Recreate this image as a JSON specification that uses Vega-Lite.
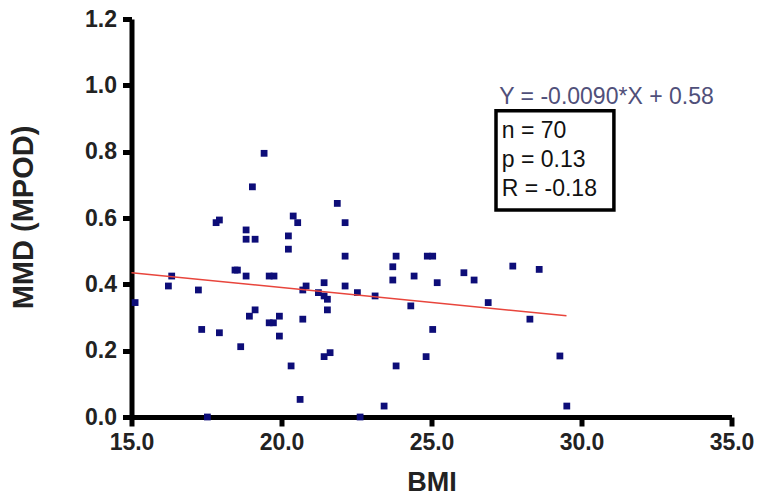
{
  "$schema": "https://vega.github.io/schema/vega-lite/v6.json",
  "width": 600,
  "height": 398,
  "autosize": "none",
  "padding": {"left": 131.5, "top": 19, "right": 26.5, "bottom": 80},
  "background": "white",
  "config": {
    "view": {"stroke": null},
    "font": "Liberation Sans",
    "axis": {
      "grid": false,
      "labelFlush": false,
      "labelOverlap": false,
      "domainColor": "black",
      "domainWidth": 5,
      "tickColor": "black",
      "tickWidth": 5,
      "tickSize": 9,
      "labelFont": "Liberation Sans",
      "labelFontWeight": "bold",
      "labelFontSize": 23,
      "labelColor": "#222222",
      "titleFont": "Liberation Sans",
      "titleFontWeight": "bold",
      "titleFontSize": 27,
      "titleColor": "#222222"
    }
  },
  "datasets": {
    "pts": [
      {"bmi": 15.12, "mmd": 0.345}, {"bmi": 16.23, "mmd": 0.395}, {"bmi": 16.34, "mmd": 0.425},
      {"bmi": 17.23, "mmd": 0.383}, {"bmi": 17.34, "mmd": 0.264}, {"bmi": 17.53, "mmd": 0.0},
      {"bmi": 17.82, "mmd": 0.586}, {"bmi": 17.93, "mmd": 0.594}, {"bmi": 17.93, "mmd": 0.254},
      {"bmi": 18.45, "mmd": 0.443}, {"bmi": 18.53, "mmd": 0.443}, {"bmi": 18.64, "mmd": 0.212},
      {"bmi": 18.82, "mmd": 0.564}, {"bmi": 18.82, "mmd": 0.536}, {"bmi": 19.12, "mmd": 0.536},
      {"bmi": 18.82, "mmd": 0.425}, {"bmi": 18.93, "mmd": 0.304}, {"bmi": 19.12, "mmd": 0.323},
      {"bmi": 19.03, "mmd": 0.694}, {"bmi": 19.42, "mmd": 0.795}, {"bmi": 19.59, "mmd": 0.425},
      {"bmi": 19.75, "mmd": 0.425}, {"bmi": 19.59, "mmd": 0.284}, {"bmi": 19.73, "mmd": 0.284},
      {"bmi": 19.93, "mmd": 0.304}, {"bmi": 19.93, "mmd": 0.244}, {"bmi": 20.23, "mmd": 0.546},
      {"bmi": 20.23, "mmd": 0.506}, {"bmi": 20.32, "mmd": 0.154}, {"bmi": 20.39, "mmd": 0.606},
      {"bmi": 20.54, "mmd": 0.586}, {"bmi": 20.62, "mmd": 0.053}, {"bmi": 20.71, "mmd": 0.295},
      {"bmi": 20.71, "mmd": 0.383}, {"bmi": 20.82, "mmd": 0.395}, {"bmi": 21.23, "mmd": 0.375},
      {"bmi": 21.42, "mmd": 0.405}, {"bmi": 21.42, "mmd": 0.365}, {"bmi": 21.53, "mmd": 0.355},
      {"bmi": 21.53, "mmd": 0.323}, {"bmi": 21.42, "mmd": 0.182}, {"bmi": 21.62, "mmd": 0.194},
      {"bmi": 21.86, "mmd": 0.644}, {"bmi": 22.12, "mmd": 0.586}, {"bmi": 22.12, "mmd": 0.485},
      {"bmi": 22.12, "mmd": 0.395}, {"bmi": 22.53, "mmd": 0.375}, {"bmi": 22.62, "mmd": 0.0},
      {"bmi": 23.12, "mmd": 0.365}, {"bmi": 23.42, "mmd": 0.033}, {"bmi": 23.71, "mmd": 0.453},
      {"bmi": 23.71, "mmd": 0.413}, {"bmi": 23.82, "mmd": 0.485}, {"bmi": 23.82, "mmd": 0.154},
      {"bmi": 24.31, "mmd": 0.335}, {"bmi": 24.42, "mmd": 0.425}, {"bmi": 24.82, "mmd": 0.182},
      {"bmi": 24.86, "mmd": 0.485}, {"bmi": 25.04, "mmd": 0.485}, {"bmi": 25.04, "mmd": 0.264},
      {"bmi": 25.19, "mmd": 0.405}, {"bmi": 26.08, "mmd": 0.435}, {"bmi": 26.42, "mmd": 0.413},
      {"bmi": 26.89, "mmd": 0.345}, {"bmi": 27.71, "mmd": 0.455}, {"bmi": 28.28, "mmd": 0.295},
      {"bmi": 28.59, "mmd": 0.445}, {"bmi": 29.28, "mmd": 0.184}, {"bmi": 29.51, "mmd": 0.033}
    ],
    "fit": [
      {"bmi": 15.0, "mmd": 0.435},
      {"bmi": 29.5, "mmd": 0.305}
    ],
    "box": [
      {"x1": 27.15, "x2": 31.08, "y1": 0.624, "y2": 0.923}
    ],
    "labels": [
      {"bmi": 27.26, "mmd": 0.943, "txt": "Y = -0.0090*X + 0.58", "kind": "eq"},
      {"bmi": 27.34, "mmd": 0.840, "txt": "n = 70", "kind": "stat"},
      {"bmi": 27.34, "mmd": 0.754, "txt": "p = 0.13", "kind": "stat"},
      {"bmi": 27.34, "mmd": 0.666, "txt": "R = -0.18", "kind": "stat"}
    ]
  },
  "layer": [
    {
      "data": {"name": "pts"},
      "mark": {"type": "point", "shape": "square", "filled": true, "size": 46, "color": "#0d0d78", "opacity": 1},
      "encoding": {
        "x": {
          "field": "bmi", "type": "quantitative",
          "scale": {"domain": [15, 35], "nice": false, "zero": false},
          "axis": {
            "values": [15, 20, 25, 30, 35], "format": ".1f", "title": "BMI",
            "labelPadding": 5, "titleBaseline": "alphabetic", "titleY": 73
          }
        },
        "y": {
          "field": "mmd", "type": "quantitative",
          "scale": {"domain": [0, 1.2], "nice": false},
          "axis": {
            "values": [0, 0.2, 0.4, 0.6, 0.8, 1.0, 1.2], "format": ".1f", "title": "MMD (MPOD)",
            "labelPadding": 6, "titleX": -93, "titleY": 198, "titleAngle": -90,
            "titleAlign": "center", "titleBaseline": "bottom", "titleFontSize": 29
          }
        }
      }
    },
    {
      "data": {"name": "fit"},
      "mark": {"type": "line", "color": "#e8453c", "strokeWidth": 1.5},
      "encoding": {
        "x": {"field": "bmi", "type": "quantitative"},
        "y": {"field": "mmd", "type": "quantitative"}
      }
    },
    {
      "data": {"name": "box"},
      "mark": {"type": "rect", "fill": "white", "fillOpacity": 0, "stroke": "black", "strokeWidth": 3.5},
      "encoding": {
        "x": {"field": "x1", "type": "quantitative"},
        "x2": {"field": "x2"},
        "y": {"field": "y1", "type": "quantitative"},
        "y2": {"field": "y2"}
      }
    },
    {
      "data": {"name": "labels"},
      "mark": {"type": "text", "align": "left", "baseline": "alphabetic", "fontSize": 23, "font": "Liberation Sans"},
      "encoding": {
        "x": {"field": "bmi", "type": "quantitative"},
        "y": {"field": "mmd", "type": "quantitative"},
        "text": {"field": "txt"},
        "color": {
          "field": "kind", "type": "nominal",
          "scale": {"domain": ["eq", "stat"], "range": ["#50507a", "#111111"]},
          "legend": null
        }
      }
    }
  ]
}
